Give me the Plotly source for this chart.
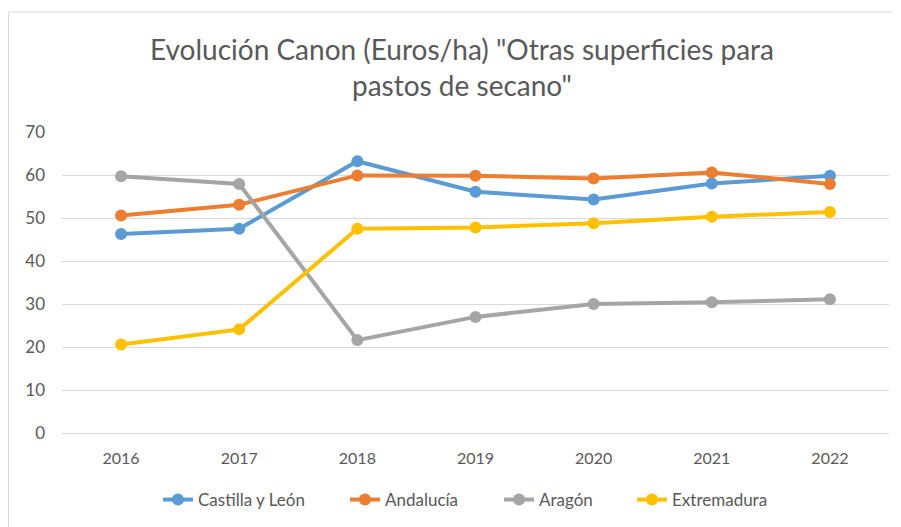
import plotly.graph_objects as go

years = ["2016", "2017", "2018", "2019", "2020", "2021", "2022"]
castilla = [46.3, 47.5, 63.2, 56.1, 54.3, 58.0, 59.8]
andalucia = [50.6, 53.1, 59.9, 59.8, 59.2, 60.6, 57.9]
aragon = [59.7, 57.9, 21.6, 27.0, 30.0, 30.4, 31.1]
extremadura = [20.6, 24.1, 47.5, 47.8, 48.8, 50.3, 51.4]

series = [
    ("Castilla y León", castilla, "#5b9bd5"),
    ("Andalucía", andalucia, "#ed7d31"),
    ("Aragón", aragon, "#a5a5a5"),
    ("Extremadura", extremadura, "#ffc000"),
]
# legend text start positions (px from figure left)
legend_text_x = [192, 379, 533, 666]

FONT = "Lato"
TXT = "#595959"
W, H = 901, 527
L, R, T, B = 54, 20, 124, 102
PW, PH = W - L - R, H - T - B

fig = go.Figure()
legend_layout = {}
for i, (name, vals, col) in enumerate(series):
    lname = "legend" if i == 0 else f"legend{i + 1}"
    fig.add_trace(go.Scatter(
        x=years, y=vals, name=name, mode="lines+markers",
        line=dict(color=col, width=4),
        marker=dict(color=col, size=12),
        legend=lname,
    ))
    legend_layout[lname] = dict(
        orientation="h", x=(legend_text_x[i] - 42 - L) / PW, xanchor="left",
        y=(H - B - 492) / PH, yanchor="middle",
        font=dict(family=FONT, size=17, color=TXT),
        bgcolor="rgba(0,0,0,0)",
    )

fig.update_layout(
    width=W, height=H,
    paper_bgcolor="white", plot_bgcolor="white",
    margin=dict(l=L, r=R, t=T, b=B),
    title=dict(
        text='Evolución Canon (Euros/ha) "Otras superficies para<br>pastos de secano"',
        x=454 / W, xanchor="center", y=1 - 52 / H, yanchor="middle",
        font=dict(family=FONT, size=28, color=TXT),
    ),
    font=dict(family=FONT, color=TXT, size=16),
    showlegend=True,
    xaxis=dict(
        type="category", range=[-0.5, 6.5], showgrid=False, showline=False,
        zeroline=False, ticks="", ticklabelstandoff=14,
        tickfont=dict(family=FONT, size=16, color=TXT),
    ),
    yaxis=dict(
        range=[0, 70], dtick=10, showgrid=True, gridcolor="#d9d9d9", gridwidth=1,
        zeroline=True, zerolinecolor="#d9d9d9", zerolinewidth=1, showline=False,
        ticks="", ticklabelstandoff=16,
        tickfont=dict(family=FONT, size=17, color=TXT),
    ),
    shapes=[dict(
        type="rect", xref="paper", yref="paper",
        x0=-(L - 0.5) / PW, x1=1 + (R + 10) / PW,
        y0=-(B + 20) / PH, y1=1 + (T - 4) / PH,
        line=dict(color="#d9d9d9", width=1), fillcolor="rgba(0,0,0,0)", layer="below",
    )],
    **legend_layout,
)

fig.write_html("out.html")
